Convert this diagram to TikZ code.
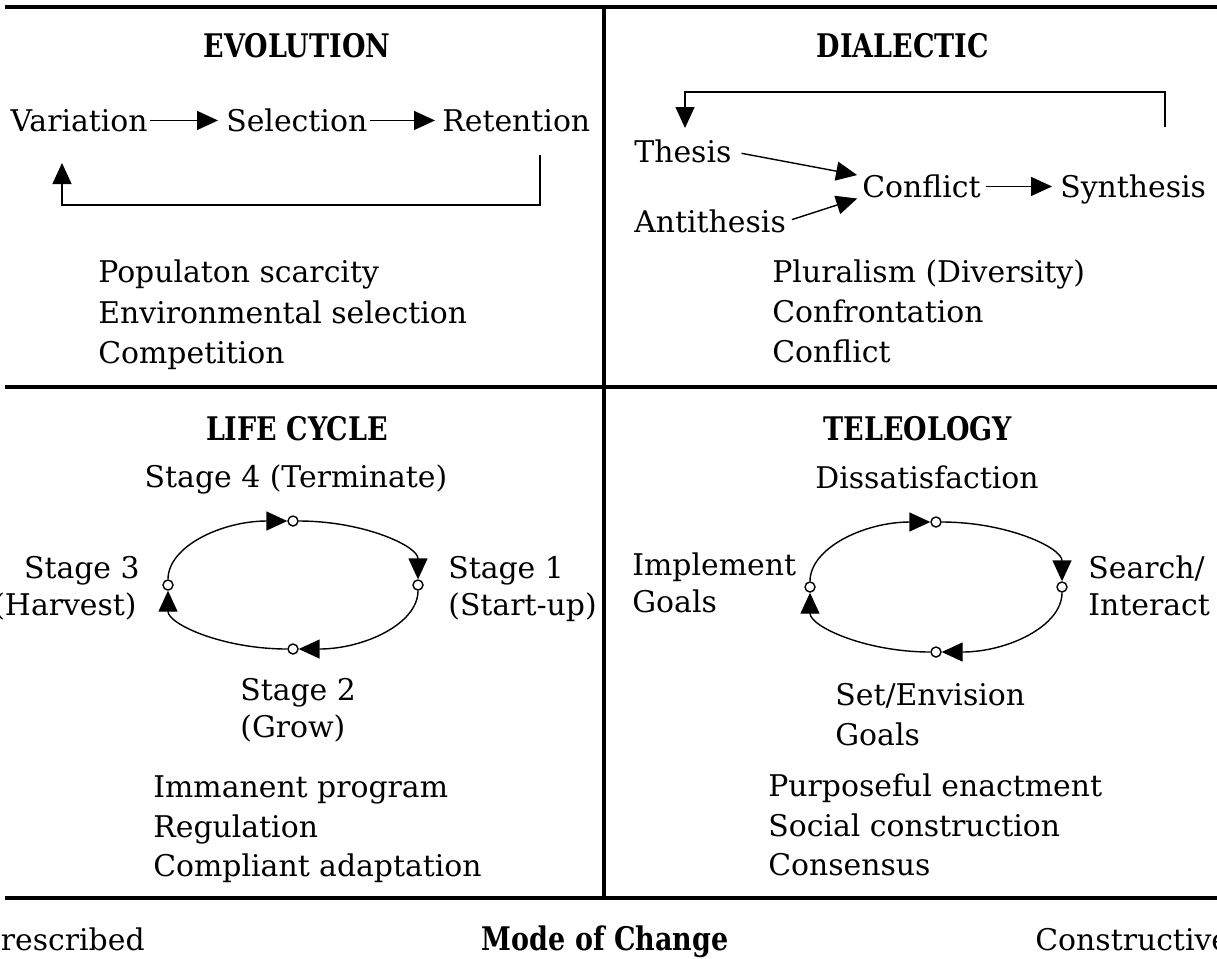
\documentclass[tikz,border=0pt]{standalone}
\usepackage{fontspec}
\setmainfont{DejaVu Serif}
\usetikzlibrary{arrows.meta,calc}
\newcommand{\condensed}[1]{\scalebox{0.83}[1]{#1}}
\begin{document}
\begin{tikzpicture}[x=0.02cm,y=-0.02cm,
  txt/.style={font=\fontsize{17}{20}\selectfont, inner sep=0pt, text height=15pt, text depth=3pt},
  head/.style={font=\fontsize{18.5}{22}\selectfont\bfseries, inner sep=0pt},
  rule/.style={line width=2pt},
  thin/.style={line width=0.8pt},
  tri/.style={-{Triangle[length=0.42cm,width=0.38cm]}},
  dot/.style={circle, draw, fill=white, line width=0.8pt, minimum size=0.2cm, inner sep=0pt},
]
\useasboundingbox (0,0) rectangle (1217,958);
\clip (0,0) rectangle (1217,958);

% frame
\draw[rule] (5,7) -- (1230,7);
\draw[rule] (5,387) -- (1230,387);
\draw[rule] (5,898) -- (1230,898);
\draw[rule] (604,7) -- (604,898);

% headings
\node[head, anchor=base] (hEvo) at (297,57) {\condensed{EVOLUTION}};
\node[head, anchor=base] (hDia) at (903,57) {\condensed{DIALECTIC}};
\node[head, anchor=base] (hLif) at (297,440) {\condensed{LIFE CYCLE}};
\node[head, anchor=base] (hTel) at (918,440) {\condensed{TELEOLOGY}};

% ---------- evolution ----------
\node[txt, anchor=base east] (var) at (148,131) {Variation};
\node[txt, anchor=base west] (sel) at (226,131) {Selection};
\node[txt, anchor=base west] (ret) at (442,131) {Retention};
\draw[thin, tri, shorten <=0.04cm, shorten >=0.16cm] (var) -- (sel);
\draw[thin, tri, shorten <=0.04cm, shorten >=0.14cm] (sel) -- (ret);
\coordinate (evoOut) at (540,155);
\coordinate (evoIn) at (62,163);
\draw[thin, tri] (evoOut) -- ++(0,50) -| (evoIn);

\node[txt, anchor=base west] (e1) at (98,282) {Populaton scarcity};
\node[txt, anchor=base west] (e2) at (98,323) {Environmental selection};
\node[txt, anchor=base west] (e3) at (98,363) {Competition};

% ---------- dialectic ----------
\node[txt, anchor=base west] (the) at (634,162) {Thesis};
\node[txt, anchor=base west] (ant) at (634,232) {Antithesis};
\node[txt, anchor=base west] (con) at (862,197) {Conflict};
\node[txt, anchor=base west] (syn) at (1060,197) {Synthesis};
\draw[thin, tri, shorten <=0.2cm, shorten >=0.1cm] (the.east) -- (con.170);
\draw[thin, tri, shorten <=0.12cm, shorten >=0.1cm] (ant.east) -- (con.190);
\draw[thin, tri, shorten <=0.1cm, shorten >=0.16cm] (con) -- (syn);
\coordinate (diaOut) at (1165,127);
\coordinate (diaIn) at (685,128);
\draw[thin, tri] (diaOut) -- ++(0,-35) -| (diaIn);

\node[txt, anchor=base west] (d1) at (772,282) {Pluralism (Diversity)};
\node[txt, anchor=base west] (d2) at (772,322) {Confrontation};
\node[txt, anchor=base west] (d3) at (772,362) {Conflict};

% ---------- life cycle ----------
\node[dot] (lT) at (293,521) {};
\node[dot] (lR) at (418,585) {};
\node[dot] (lB) at (293,649) {};
\node[dot] (lL) at (168,585) {};
\draw[thin, tri] (lL) to[out=90, in=180, out looseness=0.64, in looseness=1.25] (lT);
\draw[thin, tri] (lT) to[out=0, in=90, out looseness=1.25, in looseness=0.64] (lR);
\draw[thin, tri] (lR) to[out=-90, in=0, out looseness=0.64, in looseness=1.25] (lB);
\draw[thin, tri] (lB) to[out=180, in=-90, out looseness=1.25, in looseness=0.64] (lL);

\node[txt, anchor=base] (s4) at (296,487) {Stage 4 (Terminate)};
\node[txt, anchor=base west] (s1a) at (448,578) {Stage 1};
\node[txt, anchor=base west] (s1b) at (448,615) {(Start-up)};
\node[txt, anchor=base east] (s3a) at (140,578) {Stage 3};
\node[txt, anchor=base east] (s3b) at (137,615) {(Harvest)};
\node[txt, anchor=base west] (s2a) at (240,700) {Stage 2};
\node[txt, anchor=base west] (s2b) at (240,737) {(Grow)};

\node[txt, anchor=base west] (l1) at (153,797) {Immanent program};
\node[txt, anchor=base west] (l2) at (153,837) {Regulation};
\node[txt, anchor=base west] (l3) at (153,876) {Compliant adaptation};

% ---------- teleology ----------
\node[dot] (tT) at (936,522) {};
\node[dot] (tR) at (1062,587) {};
\node[dot] (tB) at (936,652) {};
\node[dot] (tL) at (810,587) {};
\draw[thin, tri] (tL) to[out=90, in=180, out looseness=0.64, in looseness=1.25] (tT);
\draw[thin, tri] (tT) to[out=0, in=90, out looseness=1.25, in looseness=0.64] (tR);
\draw[thin, tri] (tR) to[out=-90, in=0, out looseness=0.64, in looseness=1.25] (tB);
\draw[thin, tri] (tB) to[out=180, in=-90, out looseness=1.25, in looseness=0.64] (tL);

\node[txt, anchor=base] (dis) at (927,488) {Dissatisfaction};
\node[txt, anchor=base west] (imp1) at (632,575) {Implement};
\node[txt, anchor=base west] (imp2) at (632,612) {Goals};
\node[txt, anchor=base west] (sea1) at (1088,578) {Search/};
\node[txt, anchor=base west] (sea2) at (1088,615) {Interact};
\node[txt, anchor=base west] (set1) at (835,705) {Set/Envision};
\node[txt, anchor=base west] (set2) at (835,745) {Goals};

\node[txt, anchor=base west] (t1) at (768,796) {Purposeful enactment};
\node[txt, anchor=base west] (t2) at (768,836) {Social construction};
\node[txt, anchor=base west] (t3) at (768,875) {Consensus};

% ---------- axis ----------
\node[txt, anchor=base east] (pre) at (145,950) {Prescribed};
\node[head, anchor=base] (mode) at (605,950) {\condensed{Mode of Change}};
\node[txt, anchor=base west] (cons) at (1035,950) {Constructive};
\end{tikzpicture}
\end{document}
